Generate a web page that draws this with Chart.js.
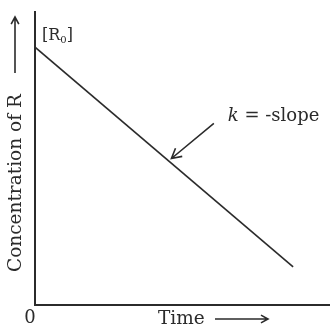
<!DOCTYPE html>
<html>
<head>
<meta charset="utf-8">
<script src="https://cdn.jsdelivr.net/npm/chart.js@4"></script>
<style>
  html, body { margin: 0; padding: 0; background: #fff; }
  #wrap { width: 330px; height: 326px; position: relative; }
</style>
</head>
<body>
<div id="wrap"><canvas id="c"></canvas></div>
<script>
// values (arbitrary units)
const time = [0, 7];
const concentration = [0.88, 0.13];
const xMax = 8;
const yMax = 1;

const INK = '#2b2b2b';
const FONT = 'DejaVu Serif, Liberation Serif, serif';

// small helper: line with an open arrow head at (x2,y2)
function arrow(ctx, x1, y1, x2, y2, head) {
  const a = Math.atan2(y2 - y1, x2 - x1);
  ctx.beginPath();
  ctx.moveTo(x1, y1);
  ctx.lineTo(x2, y2);
  ctx.moveTo(x2 - head * Math.cos(a - 0.5), y2 - head * Math.sin(a - 0.5));
  ctx.lineTo(x2, y2);
  ctx.lineTo(x2 - head * Math.cos(a + 0.5), y2 - head * Math.sin(a + 0.5));
  ctx.stroke();
}

const labels = {
  id: 'labels',
  afterDraw(chart) {
    const ctx = chart.ctx;
    const x = chart.scales.x, y = chart.scales.y;
    ctx.save();
    ctx.fillStyle = INK;
    ctx.strokeStyle = INK;
    ctx.lineWidth = 1.6;

    // [R0] at the start of the line
    const x0 = x.getPixelForValue(time[0]);
    const y0 = y.getPixelForValue(concentration[0]);
    ctx.font = '16px ' + FONT;
    ctx.textBaseline = 'alphabetic';
    ctx.textAlign = 'left';
    ctx.fillText('[R', x0 + 7, y0 - 7);
    let w = ctx.measureText('[R').width;
    ctx.font = '10px ' + FONT;
    ctx.fillText('0', x0 + 7 + w, y0 - 4);
    let w2 = ctx.measureText('0').width;
    ctx.font = '16px ' + FONT;
    ctx.fillText(']', x0 + 7 + w + w2, y0 - 7);

    // k = -slope pointer
    const tipX = x.getPixelForValue(3.7), tipY = y.getPixelForValue(0.5);
    const tailX = x.getPixelForValue(4.85), tailY = y.getPixelForValue(0.62);
    arrow(ctx, tailX, tailY, tipX, tipY, 11);
    ctx.textBaseline = 'middle';
    ctx.font = 'italic 18px ' + FONT;
    const lx = tailX + 14, ly = tailY - 7;
    ctx.fillText('k', lx, ly);
    const kw = ctx.measureText('k').width;
    ctx.font = '18px ' + FONT;
    ctx.fillText(' = -slope', lx + kw, ly);

    // origin zero
    ctx.textAlign = 'center';
    ctx.textBaseline = 'middle';
    ctx.font = '18px ' + FONT;
    ctx.fillText('0', x.left - 5, 318);

    // x title with arrow
    ctx.font = '18.5px ' + FONT;
    ctx.textAlign = 'left';
    ctx.fillText('Time', 158, 319);
    arrow(ctx, 215, 319, 268, 319, 8);

    // y title with arrow (rotated)
    ctx.save();
    ctx.translate(16, 0);
    ctx.rotate(-Math.PI / 2);
    ctx.textAlign = 'left';
    ctx.textBaseline = 'middle';
    ctx.fillText('Concentration of R', -272, 0);
    ctx.restore();
    arrow(ctx, 15, 73, 15, 17, 8);

    ctx.restore();
  }
};

new Chart(document.getElementById('c'), {
  type: 'scatter',
  data: {
    datasets: [{
      data: time.map((t, i) => ({ x: t, y: concentration[i] })),
      showLine: true,
      borderColor: INK,
      borderWidth: 1.6,
      pointRadius: 0
    }]
  },
  options: {
    responsive: true,
    maintainAspectRatio: false,
    animation: false,
    layout: { padding: { top: 12, right: 0, left: 0, bottom: 0 } },
    plugins: { legend: { display: false }, tooltip: { enabled: false } },
    scales: {
      x: {
        type: 'linear', min: 0, max: xMax,
        ticks: { display: false },
        grid: { display: false },
        border: { display: true, color: INK, width: 2 },
        afterFit: s => { s.height = 21; }
      },
      y: {
        type: 'linear', min: 0, max: yMax,
        ticks: { display: false },
        grid: { display: false },
        border: { display: true, color: INK, width: 2 },
        afterFit: s => { s.width = 35; }
      }
    }
  },
  plugins: [labels]
});
</script>
</body>
</html>
